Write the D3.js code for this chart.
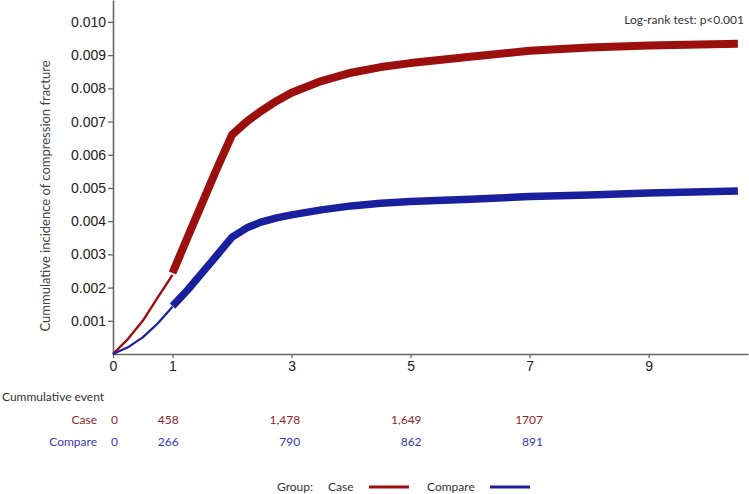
<!DOCTYPE html>
<html><head><meta charset="utf-8">
<script src="https://cdn.jsdelivr.net/npm/d3@7"></script>
<style>body{margin:0;background:#fff}svg{display:block}</style>
</head><body>
<svg id="c" width="749" height="494"></svg>
<script>
// ---- data ----
const thinTimes   = [0, 0.25, 0.5, 0.75, 1];
const caseThin    = [0, 0.00045, 0.00100, 0.00170, 0.00238];
const compareThin = [0, 0.00020, 0.00050, 0.00092, 0.00142];
const thickTimes   = [1, 1.25, 1.5, 1.75, 2, 2.25, 2.5, 2.75, 3, 3.5, 4, 4.5, 5, 6, 7, 8, 9, 10.5];
const caseThick    = [0.00244, 0.00350, 0.00455, 0.00560, 0.00660, 0.00700, 0.00733, 0.00762, 0.00787, 0.00822, 0.00847, 0.00864, 0.00876, 0.00895, 0.00913, 0.00923, 0.00929, 0.00934];
const compareThick = [0.00144, 0.00192, 0.00245, 0.00298, 0.00352, 0.00380, 0.00398, 0.00410, 0.00419, 0.00434, 0.00446, 0.00454, 0.00459, 0.00466, 0.00474, 0.00479, 0.00485, 0.00491];
const xTicks = [0, 1, 3, 5, 7, 9];
const yTicks = [0.001,0.002,0.003,0.004,0.005,0.006,0.007,0.008,0.009,0.010];
const tableTimes = [0, 1, 3, 5, 7];
const caseEvents = ["0", "458", "1,478", "1,649", "1707"];
const compareEvents = ["0", "266", "790", "862", "891"];
const groups = ["Case", "Compare"];

const red = "#9c0f0f", blue = "#1a1f9e";
const redText = "#8e2626", blueText = "#3838b4";
const svg = d3.select("#c");

const x = d3.scaleLinear().domain([0, 10.67]).range([113, 748]);
const y = d3.scaleLinear().domain([0, 0.01066]).range([354, 0]);

// axes
const yAxis = svg.append("g").attr("transform", "translate(113,0)")
  .call(d3.axisLeft(y).tickValues(yTicks).tickFormat(d3.format(".3f")).tickSize(5).tickSizeOuter(0));
const xAxis = svg.append("g").attr("transform", "translate(0,354)")
  .call(d3.axisBottom(x).tickValues(xTicks).tickFormat(d3.format("d")).tickSize(4).tickSizeOuter(0));
[yAxis, xAxis].forEach(g => {
  g.select(".domain").attr("stroke", "#666").attr("stroke-width", 1.6);
  g.selectAll(".tick line").attr("stroke", "#666").attr("stroke-width", 1.3);
  g.selectAll(".tick text").attr("font-family", "Liberation Sans, Arial, sans-serif")
    .attr("font-size", 14).attr("fill", "#222");
});
yAxis.selectAll(".tick text").attr("x", -7);
xAxis.selectAll(".tick text").attr("y", 7);

// y label
svg.append("text").attr("transform", "translate(50,196) rotate(-90)")
  .attr("text-anchor", "middle").attr("font-family", "Lato, sans-serif")
  .attr("font-size", 13).attr("fill", "#444")
  .text("Cummulative incidence of compression fracture");

// curves
const line = d3.line().x(d => x(d[0])).y(d => y(d[1])).curve(d3.curveLinear);
function draw(times, vals, color, w) {
  svg.append("path").datum(times.map((t, i) => [t, vals[i]]))
    .attr("d", line).attr("fill", "none").attr("stroke", color)
    .attr("stroke-width", w).attr("stroke-linejoin", "round");
}
draw(thinTimes, caseThin, red, 2.4);
draw(thinTimes, compareThin, blue, 2.2);
draw(thickTimes, caseThick, red, 8);
draw(thickTimes, compareThick, blue, 7.5);

// log-rank
svg.append("text").attr("x", 744).attr("y", 24).attr("text-anchor", "end")
  .attr("font-family", "Lato, sans-serif").attr("font-size", 12).attr("fill", "#333")
  .text("Log-rank test: p<0.001");

// table
const tx = d3.scaleLinear().domain([0, 7]).range([118, 543]);
svg.append("text").attr("x", 2).attr("y", 401).attr("font-family", "Lato, sans-serif")
  .attr("font-size", 12).attr("fill", "#333").text("Cummulative event");
[[caseEvents, redText, 424], [compareEvents, blueText, 446]].forEach(([vals, col, yy], gi) => {
  svg.append("text").attr("x", 97).attr("y", yy).attr("text-anchor", "end")
    .attr("font-family", "Lato, sans-serif").attr("font-size", 12).attr("fill", col).text(groups[gi]);
  svg.selectAll(null).data(vals).enter().append("text")
    .attr("x", (d, i) => tx(tableTimes[i])).attr("y", yy).attr("text-anchor", "end")
    .attr("font-family", "Lato, sans-serif").attr("font-size", 12).attr("fill", col).text(d => d);
});

// legend
const lf = "Lato, sans-serif";
svg.append("text").attr("x", 277).attr("y", 491).attr("font-family", lf).attr("font-size", 12).attr("fill", "#333").text("Group:");
svg.append("text").attr("x", 328).attr("y", 491).attr("font-family", lf).attr("font-size", 12).attr("fill", "#333").text(groups[0]);
svg.append("line").attr("x1", 369).attr("x2", 409).attr("y1", 487).attr("y2", 487).attr("stroke", red).attr("stroke-width", 3);
svg.append("text").attr("x", 427).attr("y", 491).attr("font-family", lf).attr("font-size", 12).attr("fill", "#333").text(groups[1]);
svg.append("line").attr("x1", 490).attr("x2", 530).attr("y1", 487).attr("y2", 487).attr("stroke", blue).attr("stroke-width", 3);
</script>
</body></html>
